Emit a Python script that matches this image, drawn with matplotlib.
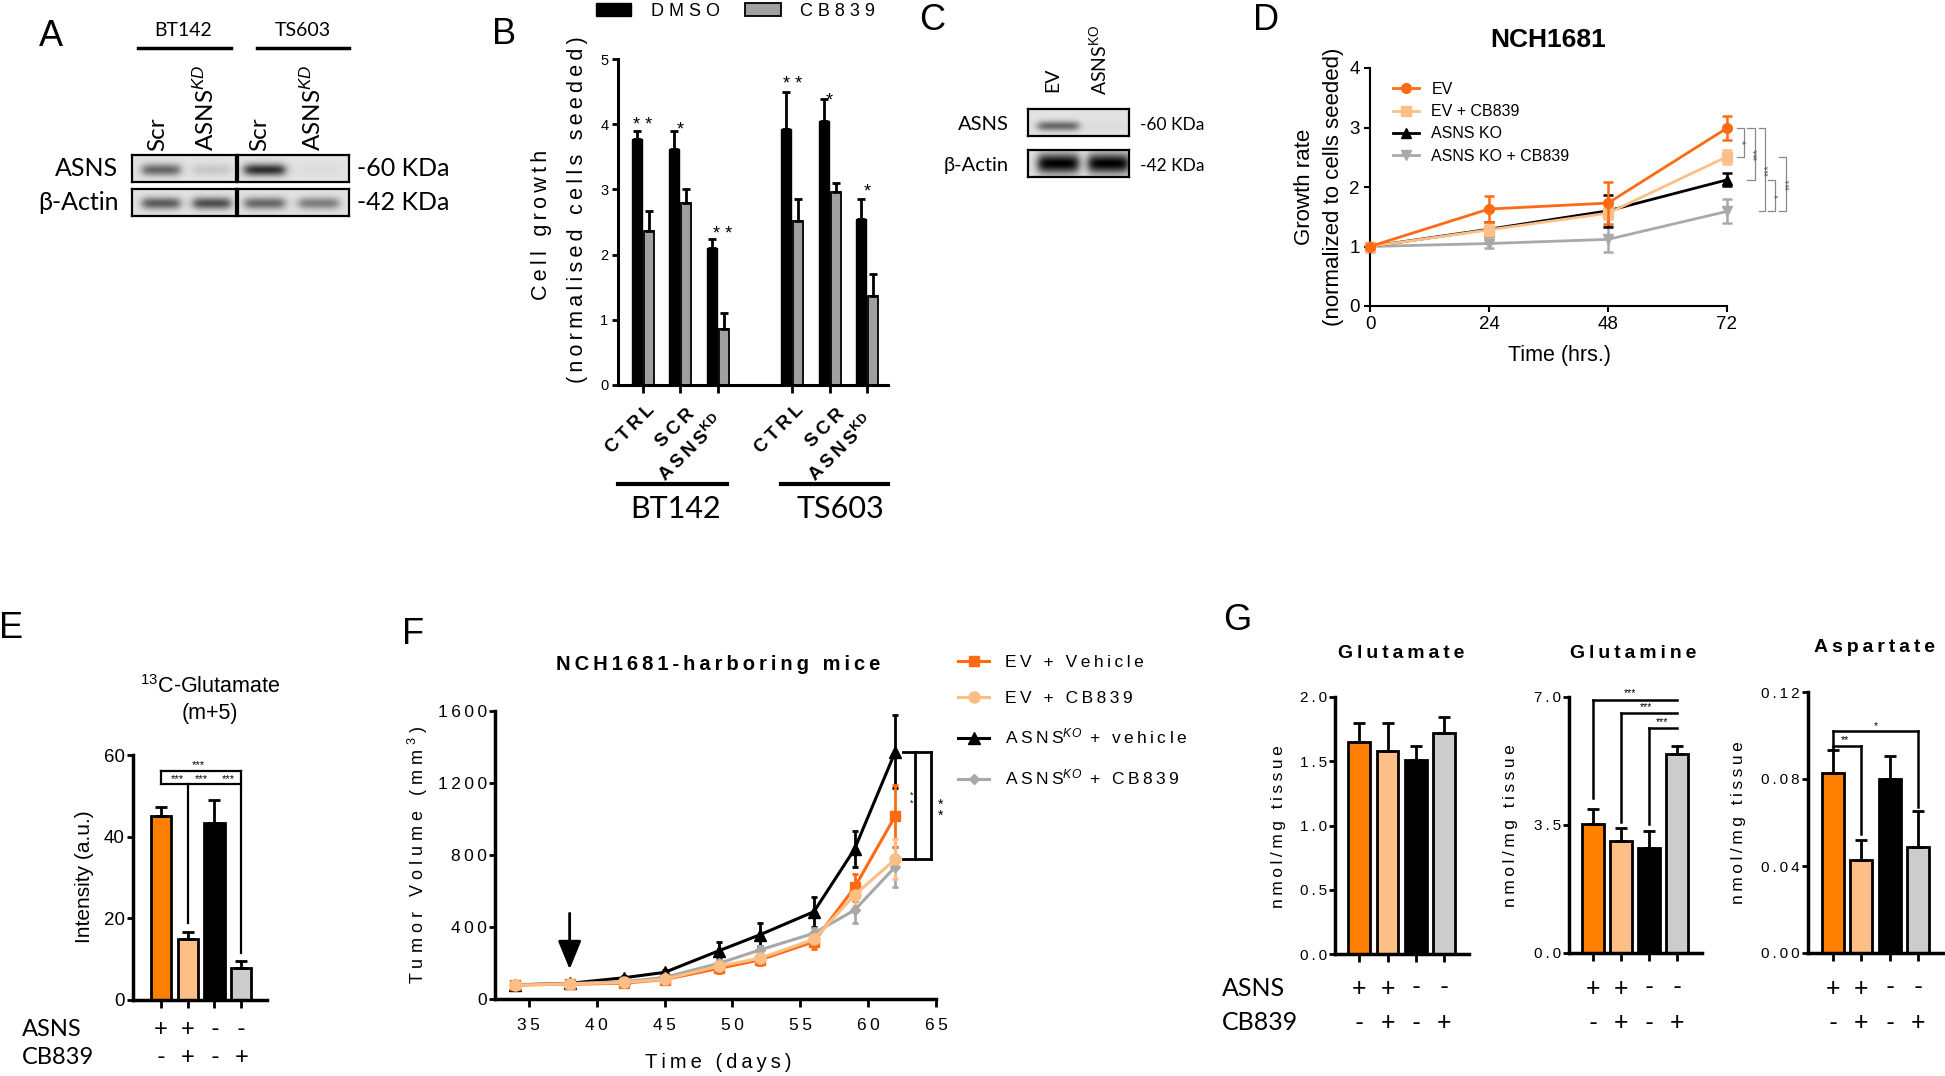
import numpy as np
import matplotlib
matplotlib.use('Agg')
import matplotlib.pyplot as plt
from matplotlib.transforms import blended_transform_factory as blend
from matplotlib.lines import Line2D

plt.rcParams['font.family'] = ['Liberation Sans', 'DejaVu Sans']
plt.rcParams['mathtext.fontset'] = 'custom'
plt.rcParams['mathtext.rm'] = 'Liberation Sans'
plt.rcParams['mathtext.it'] = 'Liberation Sans:italic'
plt.rcParams['mathtext.bf'] = 'Liberation Sans:bold'

# ---------------------------------------------------------------- data
# Panel A : western blot band intensities (0..1)
a_groups = ['BT142', 'TS603']
a_lanes = ['Scr', 'ASNS$^{KD}$']
a_asns_bt142 = [0.55, 0.12]
a_asns_ts603 = [0.80, 0.03]
a_actin_bt142 = [0.60, 0.66]
a_actin_ts603 = [0.55, 0.45]

# Panel B : cell growth
b_groups = ['BT142', 'TS603']
b_cats = ['CTRL', 'SCR', 'ASNS$^{\\mathbf{KD}}$']
b_dmso = [3.78, 3.62, 2.10, 3.92, 4.05, 2.54]
b_dmso_err = [0.12, 0.28, 0.14, 0.57, 0.33, 0.32]
b_cb = [2.36, 2.79, 0.86, 2.52, 2.96, 1.36]
b_cb_err = [0.31, 0.21, 0.25, 0.34, 0.14, 0.35]
b_stars = ['* *', '*', '* *', '* *', '*', '*']
b_star_y = [4.06, 4.00, 2.39, 4.69, 4.44, 3.05]

# Panel C : western blot
c_lanes = ['EV', 'ASNS$^{\\mathrm{KO}}$']
c_asns = [0.55, 0.03]
c_actin = [1.0, 1.0]

# Panel D : growth rate NCH1681
d_time = [0, 24, 48, 72]
d_labels = ['EV', 'EV + CB839', 'ASNS KO', 'ASNS KO + CB839']
d_ev = [1.00, 1.63, 1.73, 2.99]
d_ev_err = [0.03, 0.22, 0.35, 0.20]
d_evcb = [1.00, 1.28, 1.56, 2.51]
d_evcb_err = [0.03, 0.11, 0.10, 0.12]
d_ko = [1.00, 1.29, 1.60, 2.12]
d_ko_err = [0.03, 0.12, 0.27, 0.11]
d_kocb = [1.00, 1.05, 1.12, 1.59]
d_kocb_err = [0.03, 0.07, 0.22, 0.20]
d_sig = ['*', '***', '***', '*', '***']

# Panel E : 13C-glutamate
e_vals = [45.0, 14.9, 43.3, 7.9]
e_err = [2.3, 1.7, 5.7, 1.7]
e_asns = ['+', '+', '-', '-']
e_cb = ['-', '+', '-', '+']

# Panel F : tumour volume
f_days = [34, 38, 42, 45, 49, 52, 56, 59, 62]
f_labels = ['EV + Vehicle', 'EV + CB839', 'ASNS$^{KO}$ + vehicle', 'ASNS$^{KO}$ + CB839']
f_ev_veh = [78, 82, 88, 108, 170, 217, 318, 620, 1017]
f_ev_veh_err = [10, 10, 12, 15, 25, 30, 42, 73, 172]
f_ev_cb = [76, 84, 92, 110, 183, 226, 331, 578, 776]
f_ev_cb_err = [10, 10, 12, 15, 22, 28, 35, 60, 111]
f_ko_veh = [78, 87, 118, 148, 268, 356, 485, 833, 1374]
f_ko_veh_err = [10, 10, 12, 15, 47, 64, 84, 100, 204]
f_ko_cb = [80, 86, 96, 120, 198, 272, 365, 494, 735]
f_ko_cb_err = [8, 8, 10, 12, 20, 25, 30, 74, 111]
f_yticks = [0, 400, 800, 1200, 1600]
f_xticks = [35, 40, 45, 50, 55, 60, 65]

# Panel G : metabolites
g_titles = ['Glutamate', 'Glutamine', 'Aspartate']
g_glu = [1.65, 1.58, 1.51, 1.72]
g_glu_err = [0.15, 0.22, 0.11, 0.125]
g_gln = [3.53, 3.07, 2.86, 5.45]
g_gln_err = [0.40, 0.36, 0.48, 0.21]
g_asp = [0.0829, 0.0426, 0.0802, 0.0487]
g_asp_err = [0.0103, 0.0095, 0.0105, 0.0164]
g_yticks = [[0, 0.5, 1.0, 1.5, 2.0], [0, 3.5, 7.0], [0, 0.04, 0.08, 0.12]]
g_yticklabels = [['0.0', '0.5', '1.0', '1.5', '2.0'], ['0.0', '3.5', '7.0'],
                 ['0.00', '0.04', '0.08', '0.12']]
g_asns = ['+', '+', '-', '-']
g_cb = ['-', '+', '-', '+']

ORANGE = '#FF7F00'
LIGHT = '#FDBF85'
GREYBAR = '#CCCCCC'
BAR_COLORS = [ORANGE, LIGHT, 'black', GREYBAR]

# ---------------------------------------------------------------- helpers
W, H = 1945, 1076
fig = plt.figure(figsize=(W / 100, H / 100), dpi=100)
fig.patch.set_facecolor('white')
LATO = ['Lato', 'DejaVu Sans']


def fx(x):
    return x / W


def fy(y):
    return 1 - y / H


def AX(l, t, r, b):
    ax = fig.add_axes([fx(l), fy(b), (r - l) / W, (b - t) / H])
    ax.patch.set_alpha(0)
    return ax


def T(x, y, s, **kw):
    kw.setdefault('ha', 'center')
    kw.setdefault('va', 'center')
    return fig.text(fx(x), fy(y), s, **kw)


def ls(s, sep='\u2009'):
    parts = s.split('$')
    for i in range(0, len(parts), 2):
        parts[i] = sep.join(parts[i])
    return '$'.join(parts)


def hline(x0, x1, y, lw=2.5):
    fig.add_artist(Line2D([fx(x0), fx(x1)], [fy(y), fy(y)], color='black', lw=lw))


def blot(rect, centers, intens, band_y=0.55, sig=0.16, half_w=0.18, bg=0.89):
    ax = AX(*rect)
    yy = np.linspace(0, 1, 80)[:, None]
    xx = np.linspace(0, 1, 240)[None, :]
    img = np.full((80, 240), bg)
    for c, a in zip(centers, intens):
        px = 1 / (1 + np.exp((np.abs(xx - c) - half_w) / 0.025))
        py = np.exp(-0.5 * ((yy - band_y) / sig) ** 2)
        img = img - a * bg * px * py
    ax.imshow(np.clip(img, 0, 1), cmap='gray', vmin=0, vmax=1, aspect='auto',
              extent=(0, 1, 1, 0), interpolation='bilinear')
    ax.set_xticks([])
    ax.set_yticks([])
    for s in ax.spines.values():
        s.set_linewidth(1.6)
    return ax


def style(ax, lw=2.0):
    for s in ['top', 'right']:
        ax.spines[s].set_visible(False)
    for s in ['left', 'bottom']:
        ax.spines[s].set_linewidth(lw)


# panel letters
for L, x, y in [('A', 51, 36), ('B', 504, 35), ('C', 932, 20), ('D', 1266, 21),
                ('E', 11, 628), ('F', 413, 634), ('G', 1237, 620)]:
    T(x, y, L, fontsize=26)

# ---------------------------------------------------------------- Panel A
blot((132, 155, 236, 182), [0.28, 0.77], a_asns_bt142)
blot((238, 155, 349, 182), [0.24, 0.73], a_asns_ts603)
blot((132, 189, 236, 216), [0.28, 0.77], a_actin_bt142, band_y=0.53)
blot((238, 189, 349, 216), [0.24, 0.73], a_actin_ts603, band_y=0.53)
T(118, 168, 'ASNS', ha='right', family=LATO, fontsize=18)
T(119, 202, 'β-Actin', ha='right', family=LATO, fontsize=18)
T(357, 168, '-60 KDa', ha='left', family=LATO, fontsize=18)
T(357, 202, '-42 KDa', ha='left', family=LATO, fontsize=18)
for x, lab in zip([158, 205, 260, 312], a_lanes * 2):
    T(x, 151, lab, rotation=90, va='bottom', family=LATO, fontsize=17.5)
for x, g, (l0, l1) in zip([183, 303], a_groups, [(138, 231), (257, 349)]):
    T(x, 30, g, family=LATO, fontsize=14)
    hline(l0, l1, 48, lw=2.5)

# ---------------------------------------------------------------- Panel B
axB = AX(618, 59, 888, 385)
pos = np.array([0, 1, 2, 4, 5, 6])
xd, xc = pos - 0.16, pos + 0.16
bd = axB.bar(xd, b_dmso, width=0.27, color='black', edgecolor='black', lw=1, zorder=2)
bc = axB.bar(xc, b_cb, width=0.27, color='#A0A0A0', edgecolor='black', lw=1.3, zorder=2)
axB.errorbar(xd, b_dmso, yerr=[np.zeros(6), b_dmso_err], fmt='none', ecolor='black',
             elinewidth=2, capsize=3, capthick=2, zorder=3)
axB.errorbar(xc, b_cb, yerr=[np.zeros(6), b_cb_err], fmt='none', ecolor='black',
             elinewidth=2, capsize=3, capthick=2, zorder=3)
axB.set_xlim(-0.67, 6.56)
axB.set_ylim(0, 5)
style(axB, 2.2)
axB.set_yticks(range(6))
axB.tick_params(axis='y', length=4, width=2, labelsize=10.5, pad=3)
axB.set_xticks(pos)
axB.set_xticklabels([])
axB.tick_params(axis='x', length=6, width=2)
for p, lab, (dx, dy) in zip(pos, b_cats * 2, [(3, -16), (6, -21), (-4, -27)] * 2):
    axB.annotate(ls(lab), xy=(p, 0), xycoords=('data', 'axes fraction'),
                 xytext=(dx, dy), textcoords='offset pixels', rotation=45,
                 ha='right', va='top', rotation_mode='anchor', fontsize=13.5,
                 fontweight='bold')
for p, s, y in zip(pos, b_stars, b_star_y):
    axB.annotate(s, xy=(p + (0.12 if s == '* *' and p == 2 else 0), y), xytext=(0, -10),
                 textcoords='offset pixels', ha='center', va='baseline', fontsize=13)
fig.legend([bd, bc], [ls('DMSO', ' '), ls('CB839', ' ')], loc='upper left',
           bbox_to_anchor=(fx(596), fy(3)), ncol=2, frameon=False, fontsize=13,
           handlelength=1.95, handleheight=0.7, handletextpad=1.1, columnspacing=1.4,
           borderpad=0, borderaxespad=0)
T(542, 225, ls('Cell growth'), rotation=90, fontsize=15.5)
T(577, 210, ls('(normalised cells seeded)'), rotation=90, fontsize=15.5)
for g, (l0, l1), xcen in zip(b_groups, [(618, 727), (781, 888)], [676, 840]):
    hline(l0, l1, 484, lw=3)
    T(xcen, 509, g, family=LATO, fontsize=22)

# ---------------------------------------------------------------- Panel C
blot((1028, 109, 1129, 136), [0.30, 0.80], c_asns, band_y=0.63, sig=0.13, half_w=0.2)
blot((1028, 150, 1129, 177), [0.30, 0.80], c_actin, band_y=0.5, sig=0.26, half_w=0.2)
T(1009, 125, 'ASNS', ha='right', family=LATO, fontsize=14.5)
T(1009, 166, 'β-Actin', ha='right', family=LATO, fontsize=14.5)
T(1140, 125, '-60 KDa', ha='left', family=LATO, fontsize=12.5)
T(1140, 166, '-42 KDa', ha='left', family=LATO, fontsize=12.5)
T(1053, 92, c_lanes[0], rotation=90, va='bottom', family=LATO, fontsize=14)
T(1098, 95, c_lanes[1], rotation=90, va='bottom', family=LATO, fontsize=14)

# ---------------------------------------------------------------- Panel D
axD = AX(1370, 68, 1727, 306)
d_series = [(d_ev, d_ev_err), (d_evcb, d_evcb_err), (d_ko, d_ko_err), (d_kocb, d_kocb_err)]
d_colors = ['#FF6A13', '#FBBF87', 'black', '#A9A9A9']
d_markers = ['o', 's', '^', 'v']
d_handles = [None] * 4
for i in [3, 2, 1, 0]:
    cont = axD.errorbar(d_time, d_series[i][0], yerr=d_series[i][1], color=d_colors[i],
                        marker=d_markers[i], ms=7, lw=2, elinewidth=1.8, capsize=3.5,
                        capthick=1.8, clip_on=False, zorder=3 + (3 - i))
    d_handles[i] = cont.lines[0]
axD.set_xlim(0, 72)
axD.set_ylim(0, 4)
style(axD, 1.5)
axD.set_xticks(d_time)
axD.set_yticks(range(5))
axD.tick_params(length=4.5, width=1.5, labelsize=13.5, pad=3)
axD.legend(d_handles, d_labels, loc='upper left', bbox_to_anchor=(fx(1393), fy(82)),
           bbox_transform=fig.transFigure, frameon=False, fontsize=11.5,
           handlelength=1.6, handletextpad=0.8, labelspacing=0.45, borderpad=0,
           borderaxespad=0)
d_brk = [(74.0, 75.4, d_ev[3], d_evcb[3]), (76.0, 77.6, d_ev[3], d_ko[3]),
         (78.4, 79.7, d_ev[3], d_kocb[3]), (80.3, 81.7, d_ko[3], d_kocb[3]),
         (82.4, 83.9, d_evcb[3], d_kocb[3])]
for (x1, x2, yt, yb), s in zip(d_brk, d_sig):
    axD.plot([x1, x2, x2, x1], [yt, yt, yb, yb], color='#888888', lw=0.9, clip_on=False)
    axD.text(x2 + 0.7, (yt + yb) / 2, s, rotation=90, fontsize=7, ha='center',
             va='center', color='#555555', clip_on=False)
T(1548, 40, 'NCH1681', fontsize=19, fontweight='bold')
T(1304, 187, 'Growth rate', rotation=90, fontsize=16)
T(1333, 187, '(normalized to cells seeded)', rotation=90, fontsize=16)
T(1559, 355, 'Time (hrs.)', fontsize=15.5)

# ---------------------------------------------------------------- Panel E
axE = AX(133, 755, 267, 1000)
xs = np.arange(4)
axE.bar(xs, e_vals, width=0.75, color=BAR_COLORS, edgecolor='black', lw=2, zorder=2)
axE.errorbar(xs, e_vals, yerr=[np.zeros(4), e_err], fmt='none', ecolor='black',
             elinewidth=2, capsize=4.5, capthick=2, zorder=3)
axE.set_xlim(-1.04, 3.96)
axE.set_ylim(0, 60)
style(axE, 2.5)
axE.set_yticks([0, 20, 40, 60])
axE.set_xticks(xs)
axE.set_xticklabels([])
axE.tick_params(axis='y', length=4, width=2, labelsize=13.5, pad=2)
axE.tick_params(axis='x', length=6, width=2)
sk = dict(color='black', lw=1.6, clip_on=False)
axE.plot([0, 3], [56.1, 56.1], **sk)
axE.plot([0, 3], [52.8, 52.8], **sk)
axE.plot([0, 0], [56.1, 52.8], **sk)
axE.plot([1, 1], [52.8, 18.8], **sk)
axE.plot([3, 3], [56.1, 11.4], **sk)
for x, y in [(1.39, 56.3), (0.63, 53.0), (1.5, 53.0), (2.52, 53.0)]:
    axE.text(x, y, '***', ha='center', va='bottom', fontsize=8)
T(210, 687, '$^{13}$C-Glutamate', fontsize=15.5)
T(210, 713, '(m+5)', fontsize=15.5)
T(85, 877, 'Intensity (a.u.)', rotation=90, fontsize=15)
trE = blend(axE.transData, fig.transFigure)
T(22, 1030, 'ASNS', ha='left', family=LATO, fontsize=17)
T(22, 1058, 'CB839', ha='left', family=LATO, fontsize=17)
for i in range(4):
    axE.text(i, fy(1030), e_asns[i], transform=trE, ha='center', va='center',
             family=LATO, fontsize=17)
    axE.text(i, fy(1058), e_cb[i], transform=trE, ha='center', va='center',
             family=LATO, fontsize=17)

# ---------------------------------------------------------------- Panel F
axF = AX(495, 711, 936, 999)
f_series = [(f_ev_veh, f_ev_veh_err), (f_ev_cb, f_ev_cb_err),
            (f_ko_veh, f_ko_veh_err), (f_ko_cb, f_ko_cb_err)]
f_colors = ['#FF6A13', '#FBBF85', 'black', '#A8A8A8']
f_markers = ['s', 'o', '^', 'D']
f_ms = [7.5, 8, 8.5, 5.5]
f_handles = [None] * 4
for i in [2, 3, 0, 1]:
    cont = axF.errorbar(f_days, f_series[i][0], yerr=f_series[i][1], color=f_colors[i],
                        marker=f_markers[i], ms=f_ms[i], lw=2.2, elinewidth=2, capsize=2.5,
                        capthick=2, zorder=3)
    f_handles[i] = cont.lines[0]
axF.set_xlim(32.5, 65)
axF.set_ylim(0, 1600)
style(axF, 2.5)
axF.set_xticks(f_xticks)
axF.set_xticklabels([ls(str(t)) for t in f_xticks])
axF.set_yticks(f_yticks)
axF.set_yticklabels([ls(str(t)) for t in f_yticks])
axF.tick_params(axis='x', length=6, width=2, labelsize=12.5, pad=8)
axF.tick_params(axis='y', length=4, width=2, labelsize=12.5, pad=2)
axF.annotate('', xy=(38, 165), xytext=(38, 476),
             arrowprops=dict(arrowstyle='-|>,head_length=1.1,head_width=0.45',
                             color='black', lw=2, mutation_scale=16, shrinkA=0, shrinkB=0))
fk = dict(color='black', lw=2, clip_on=False)
f_brk_bottom = 778
axF.plot([62.6, 64.65], [f_ko_veh[-1], f_ko_veh[-1]], **fk)
axF.plot([62.6, 64.65], [f_brk_bottom, f_brk_bottom], **fk)
axF.plot([63.45, 63.45], [f_ko_veh[-1], f_brk_bottom], **fk)
axF.plot([64.65, 64.65], [f_ko_veh[-1], f_brk_bottom], **fk)
axF.text(65.3, 1050, '*\n*', ha='center', va='center', fontsize=10, linespacing=0.75,
         clip_on=False)
axF.text(63.2, 1110, '*\n*', ha='center', va='center', fontsize=6.5, linespacing=0.75,
         clip_on=False)
axF.legend(f_handles, [ls(l) for l in f_labels], loc='upper left',
           bbox_to_anchor=(fx(958), fy(655)), bbox_transform=fig.transFigure,
           frameon=False, fontsize=12.5, handlelength=1.8, handletextpad=0.9,
           labelspacing=1.2, borderpad=0, borderaxespad=0)
T(718, 665, ls('NCH1681-harboring mice'), fontsize=14.5, fontweight='bold')
T(418, 855, 'T u m o r   V o l u m e   ( m m $^{3}$ )', rotation=90, fontsize=13)
T(718, 1063, ls('Time (days)'), fontsize=14.5)

# ---------------------------------------------------------------- Panel G
g_rects = [(1335, 697, 1469, 954), (1569, 697, 1702, 953), (1808, 692, 1944, 953)]
g_vals = [g_glu, g_gln, g_asp]
g_errs = [g_glu_err, g_gln_err, g_asp_err]
g_top = [2.0, 7.0, 0.12]
g_title_xy = [(1401, 653), (1633, 653), (1874, 648)]
g_ylab = [(1278, 827), (1511, 826), (1739, 823)]
T(1222, 988, 'ASNS', ha='left', family=LATO, fontsize=18)
T(1222, 1023, 'CB839', ha='left', family=LATO, fontsize=18)
g_axes = []
for k in range(3):
    ax = AX(*g_rects[k])
    g_axes.append(ax)
    ax.bar(xs, g_vals[k], width=0.78, color=BAR_COLORS, edgecolor='black', lw=2, zorder=2)
    ax.errorbar(xs, g_vals[k], yerr=[np.zeros(4), g_errs[k]], fmt='none', ecolor='black',
                elinewidth=2, capsize=4.5, capthick=2, zorder=3)
    ax.set_xlim(-0.87, 3.9)
    ax.set_ylim(0, g_top[k])
    style(ax, 2.5)
    ax.set_yticks(g_yticks[k])
    ax.set_yticklabels([ls(t) for t in g_yticklabels[k]])
    ax.set_xticks(xs)
    ax.set_xticklabels([])
    ax.tick_params(axis='y', length=4, width=2, labelsize=11, pad=2)
    ax.tick_params(axis='x', length=6, width=2)
    T(*g_title_xy[k], ls(g_titles[k]), fontsize=14, fontweight='bold')
    T(*g_ylab[k], ls('nmol/mg tissue'), rotation=90, fontsize=12.5)
    tr = blend(ax.transData, fig.transFigure)
    for i in range(4):
        ax.text(i, fy(988), g_asns[i], transform=tr, ha='center', va='center',
                family=LATO, fontsize=18)
        ax.text(i, fy(1023), g_cb[i], transform=tr, ha='center', va='center',
                family=LATO, fontsize=18)

axQ = g_axes[1]
qk = dict(color='black', lw=1.8, clip_on=False)
for x0, y, ybot, sx in [(0, 6.93, 4.23, 1.31), (1, 6.55, 3.59, 1.89), (2, 6.16, 3.53, 2.47)]:
    axQ.plot([x0, 3], [y, y], **qk)
    axQ.plot([x0, x0], [y, ybot], **qk)
    axQ.text(sx, y + 0.03, '***', ha='center', va='bottom', fontsize=7.5)
axA = g_axes[2]
axA.plot([0, 1], [0.0952, 0.0952], **qk)
axA.plot([1, 1], [0.0952, 0.0549], **qk)
axA.plot([0, 3], [0.1019, 0.1019], **qk)
axA.plot([0, 0], [0.1019, 0.0932], **qk)
axA.plot([3, 3], [0.1019, 0.0671], **qk)
axA.text(0.44, 0.0955, '**', ha='center', va='bottom', fontsize=7.5)
axA.text(1.51, 0.1022, '*', ha='center', va='bottom', fontsize=7.5)

fig.savefig('out.png', dpi=100, facecolor='white')
